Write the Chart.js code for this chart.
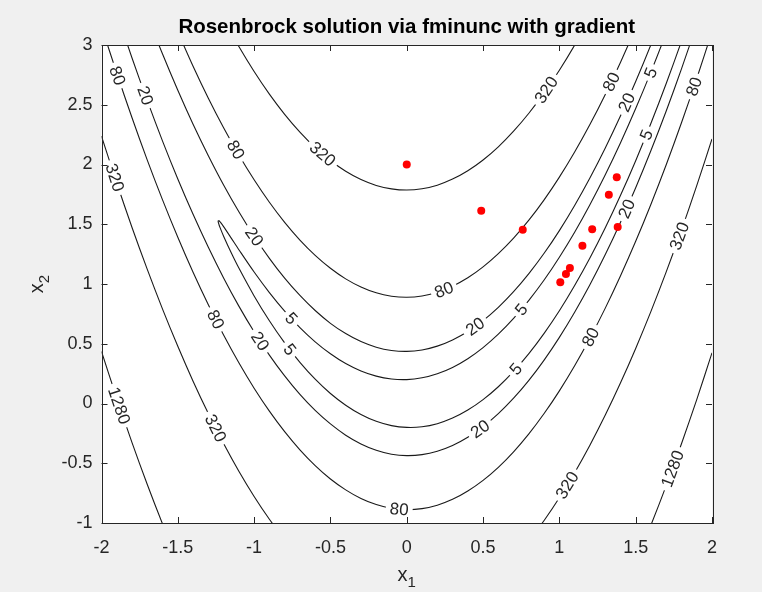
<!DOCTYPE html>
<html lang="en">
<head>
    <meta charset="UTF-8">
    <title>Rosenbrock solution via fminunc with gradient</title>
    <script src="https://cdn.jsdelivr.net/npm/chart.js"></script>
    <style>
        body { margin: 0; background: #f0f0f0; }
        canvas { display: block; }
    </style>
</head>
<body>
    <canvas id="rosenChart" width="762" height="592"></canvas>

    <script>
        // axis ticks
        const xTicks = [-2, -1.5, -1, -0.5, 0, 0.5, 1, 1.5, 2];
        const yTicks = [-1, -0.5, 0, 0.5, 1, 1.5, 2, 2.5, 3];

        // solver iterates
        const iterX = [0, 0.488, 0.760, 1.376, 1.324, 1.215, 1.382, 1.151, 1.069, 1.043, 1.006];
        const iterY = [2, 1.613, 1.454, 1.893, 1.747, 1.458, 1.477, 1.321, 1.134, 1.084, 1.014];

        // contour lines, [x, y] pairs
        const c5 = [
            [1.8, 3.449], [1.7, 3.102], [1.6, 2.775], [1.5, 2.468], [1.4, 2.180], [1.3, 1.912], [1.2, 1.663],
            [1.1, 1.433], [1.0, 1.224], [0.9, 1.033], [0.8, 0.863], [0.7, 0.712], [0.6, 0.580], [0.5, 0.468],
            [0.4, 0.375], [0.3, 0.302], [0.2, 0.249], [0.1, 0.215], [0, 0.200], [-0.1, 0.205], [-0.2, 0.229],
            [-0.3, 0.272], [-0.4, 0.334], [-0.5, 0.416], [-0.6, 0.516], [-0.7, 0.635], [-0.8, 0.773],
            [-0.9, 0.928], [-1.0, 1.100], [-1.1, 1.287], [-1.15, 1.384], [-1.2, 1.480], [-1.22, 1.515],
            [-1.23, 1.529], [-1.236, 1.528], [-1.23, 1.496], [-1.22, 1.462], [-1.2, 1.400], [-1.15, 1.261],
            [-1.1, 1.133], [-1.0, 0.900], [-0.9, 0.692], [-0.8, 0.507], [-0.7, 0.345], [-0.6, 0.204],
            [-0.5, 0.084], [-0.4, -0.014], [-0.3, -0.092], [-0.2, -0.149], [-0.1, -0.185], [0, -0.200],
            [0.1, -0.195], [0.2, -0.169], [0.3, -0.122], [0.4, -0.055], [0.5, 0.032], [0.6, 0.140],
            [0.7, 0.268], [0.8, 0.417], [0.9, 0.587], [1.0, 0.776], [1.1, 0.987], [1.2, 1.217], [1.3, 1.468],
            [1.4, 1.740], [1.5, 2.032], [1.6, 2.345], [1.7, 2.678], [1.8, 3.031], [1.9, 3.405]
        ];
        const c20Upper = [
            [-1.7, 3.247], [-1.6, 2.924], [-1.5, 2.621], [-1.4, 2.337], [-1.3, 2.074], [-1.2, 1.829],
            [-1.1, 1.605], [-1.0, 1.400], [-0.9, 1.215], [-0.8, 1.049], [-0.7, 0.904], [-0.6, 0.778],
            [-0.5, 0.671], [-0.4, 0.585], [-0.3, 0.518], [-0.2, 0.471], [-0.1, 0.444], [0, 0.436],
            [0.1, 0.448], [0.2, 0.480], [0.3, 0.532], [0.4, 0.603], [0.5, 0.694], [0.6, 0.805], [0.7, 0.936],
            [0.8, 1.087], [0.9, 1.257], [1.0, 1.447], [1.1, 1.657], [1.2, 1.887], [1.3, 2.136], [1.4, 2.405],
            [1.5, 2.694], [1.6, 3.003], [1.7, 3.332]
        ];
        const c20Lower = [
            [-2.0, 3.668], [-1.9, 3.270], [-1.8, 2.891], [-1.7, 2.534], [-1.6, 2.196], [-1.5, 1.879],
            [-1.4, 1.583], [-1.3, 1.307], [-1.2, 1.051], [-1.1, 0.815], [-1.0, 0.600], [-0.9, 0.405],
            [-0.8, 0.231], [-0.7, 0.076], [-0.6, -0.058], [-0.5, -0.171], [-0.4, -0.265], [-0.3, -0.338],
            [-0.2, -0.391], [-0.1, -0.424], [0, -0.436], [0.1, -0.428], [0.2, -0.400], [0.3, -0.352],
            [0.4, -0.283], [0.5, -0.194], [0.6, -0.085], [0.7, 0.044], [0.8, 0.193], [0.9, 0.363], [1.0, 0.553],
            [1.1, 0.763], [1.2, 0.993], [1.3, 1.244], [1.4, 1.515], [1.5, 1.806], [1.6, 2.117], [1.7, 2.448],
            [1.8, 2.800], [1.9, 3.172]
        ];
        const c80Upper = [
            [-1.5, 3.109], [-1.4, 2.822], [-1.3, 2.554], [-1.2, 2.307], [-1.1, 2.079], [-1.0, 1.872],
            [-0.9, 1.684], [-0.8, 1.516], [-0.7, 1.368], [-0.6, 1.240], [-0.5, 1.132], [-0.4, 1.043],
            [-0.3, 0.975], [-0.2, 0.926], [-0.1, 0.898], [0, 0.889], [0.1, 0.900], [0.2, 0.931], [0.3, 0.982],
            [0.4, 1.052], [0.5, 1.143], [0.6, 1.254], [0.7, 1.384], [0.8, 1.534], [0.9, 1.704], [1.0, 1.894],
            [1.1, 2.104], [1.2, 2.334], [1.3, 2.584], [1.4, 2.854], [1.5, 3.143]
        ];
        const c80Lower = [
            [-2.0, 3.157], [-1.9, 2.764], [-1.8, 2.391], [-1.7, 2.037], [-1.6, 1.704], [-1.5, 1.391],
            [-1.4, 1.098], [-1.3, 0.826], [-1.2, 0.573], [-1.1, 0.341], [-1.0, 0.128], [-0.9, -0.064],
            [-0.8, -0.236], [-0.7, -0.388], [-0.6, -0.520], [-0.5, -0.632], [-0.4, -0.723], [-0.3, -0.795],
            [-0.2, -0.846], [-0.1, -0.878], [0, -0.889], [0.1, -0.880], [0.2, -0.851], [0.3, -0.802],
            [0.4, -0.732], [0.5, -0.643], [0.6, -0.534], [0.7, -0.404], [0.8, -0.254], [0.9, -0.084],
            [1.0, 0.106], [1.1, 0.316], [1.2, 0.546], [1.3, 0.796], [1.4, 1.067], [1.5, 1.357], [1.6, 1.668],
            [1.7, 1.998], [1.8, 2.349], [1.9, 2.720], [2.0, 3.111]
        ];
        const c320Upper = [
            [-1.2, 3.215], [-1.1, 2.987], [-1.0, 2.778], [-0.9, 2.589], [-0.8, 2.420], [-0.7, 2.271],
            [-0.6, 2.142], [-0.5, 2.033], [-0.4, 1.943], [-0.3, 1.874], [-0.2, 1.825], [-0.1, 1.796],
            [0, 1.786], [0.1, 1.797], [0.2, 1.827], [0.3, 1.878], [0.4, 1.948], [0.5, 2.038], [0.6, 2.148],
            [0.7, 2.279], [0.8, 2.429], [0.9, 2.599], [1.0, 2.789], [1.1, 2.999], [1.2, 3.229]
        ];
        const c320LowerLeft = [
            [-2.0, 2.237], [-1.9, 1.845], [-1.8, 1.473], [-1.7, 1.122], [-1.6, 0.790], [-1.5, 0.479],
            [-1.4, 0.187], [-1.3, -0.084], [-1.2, -0.335], [-1.1, -0.567], [-1.0, -0.778], [-0.9, -0.969],
            [-0.8, -1.140]
        ];
        const c320LowerRight = [
            [0.8, -1.149], [0.9, -0.979], [1.0, -0.789], [1.1, -0.579], [1.2, -0.349], [1.3, -0.099],
            [1.4, 0.171], [1.5, 0.461], [1.6, 0.771], [1.7, 1.101], [1.8, 1.451], [1.9, 1.823], [2.0, 2.214]
        ];
        const c1280Left = [[-2.0, 0.435], [-1.9, 0.044], [-1.8, -0.327], [-1.7, -0.678], [-1.6, -1.008], [-1.5, -1.319]];
        const c1280Right = [[1.5, -1.327], [1.6, -1.017], [1.7, -0.687], [1.8, -0.337], [1.9, 0.033], [2.0, 0.424]];

        const contours = [
            { level: 5, pts: c5 },
            { level: 20, pts: c20Upper }, { level: 20, pts: c20Lower },
            { level: 80, pts: c80Upper }, { level: 80, pts: c80Lower },
            { level: 320, pts: c320Upper }, { level: 320, pts: c320LowerLeft }, { level: 320, pts: c320LowerRight },
            { level: 1280, pts: c1280Left }, { level: 1280, pts: c1280Right }
        ];

        // inline contour labels: level and rough spot on the line
        const labelLevels = [80, 20, 80, 320, 20, 5, 5, 20, 80, 1280, 320, 80, 20, 5, 80,
                             320, 1280, 320, 80, 20, 5, 5, 20, 80, 320, 320, 80, 20, 5];
        const labelX = [-1.905, -1.725, -1.137, -1.92, -1.007, -0.757, -0.768, -0.963, -1.257, -1.888, -1.257,
                        -0.05, 0.484, 0.723, 1.213, 1.06, 1.757, 1.789, 1.887, 1.44, 1.57, 1.615, 1.44, 1.343,
                        0.919, -0.55, 0.244, 0.451, 0.756];
        const labelY = [2.74, 2.571, 2.11, 1.887, 1.39, 0.71, 0.45, 0.52, 0.70, -0.02, -0.21,
                        -0.89, -0.219, 0.28, 0.55, -0.69, -0.554, 1.40, 2.65, 1.63, 2.25, 2.76, 2.52, 2.69,
                        2.62, 2.09, 0.95, 0.64, 0.78];

        const FONT = '"Liberation Sans", Arial, Helvetica, sans-serif';
        const INK = '#262626';

        function drawContourLabels(chart) {
            const ctx = chart.ctx;
            const xs = chart.scales.x, ys = chart.scales.y;
            ctx.save();
            ctx.font = '17px ' + FONT;
            ctx.textAlign = 'center';
            ctx.textBaseline = 'middle';
            labelLevels.forEach((lvl, k) => {
                const px = xs.getPixelForValue(labelX[k]);
                const py = ys.getPixelForValue(labelY[k]);
                let best = null;
                chart.data.datasets.forEach(ds => {
                    if (ds.level !== lvl) return;
                    const p = ds.data.map(d => [xs.getPixelForValue(d.x), ys.getPixelForValue(d.y)]);
                    for (let i = 0; i < p.length - 1; i++) {
                        const dx = p[i + 1][0] - p[i][0], dy = p[i + 1][1] - p[i][1];
                        const len2 = dx * dx + dy * dy;
                        let t = ((px - p[i][0]) * dx + (py - p[i][1]) * dy) / len2;
                        t = Math.max(0, Math.min(1, t));
                        const qx = p[i][0] + t * dx, qy = p[i][1] + t * dy;
                        const dist = Math.hypot(qx - px, qy - py);
                        if (!best || dist < best.dist) best = { dist, x: qx, y: qy, ang: Math.atan2(dy, dx) };
                    }
                });
                if (!best) return;
                let a = best.ang;
                if (a > Math.PI / 2) a -= Math.PI;
                if (a < -Math.PI / 2) a += Math.PI;
                const txt = String(lvl);
                const w = ctx.measureText(txt).width;
                ctx.save();
                ctx.translate(best.x, best.y);
                ctx.rotate(a);
                ctx.fillStyle = '#ffffff';
                ctx.fillRect(-w / 2 - 4, -7, w + 8, 14);
                ctx.fillStyle = INK;
                ctx.fillText(txt, 0, 1);
                ctx.restore();
            });
            ctx.restore();
        }

        const framePlugin = {
            id: 'frame',
            beforeDraw(chart) {
                const { ctx, chartArea: a } = chart;
                ctx.save();
                ctx.fillStyle = '#f0f0f0';
                ctx.fillRect(0, 0, chart.width, chart.height);
                ctx.fillStyle = '#ffffff';
                ctx.fillRect(a.left, a.top, a.right - a.left, a.bottom - a.top);
                ctx.restore();
            },
            beforeDatasetDraw(chart, args) {
                // labels go on after every contour line, just before the iterate markers
                if (args.index === 0) drawContourLabels(chart);
            },
            afterDraw(chart) {
                const { ctx, chartArea: a } = chart;
                const xs = chart.scales.x, ys = chart.scales.y;
                const tl = 6;
                ctx.save();
                ctx.strokeStyle = INK;
                ctx.lineWidth = 1;
                ctx.beginPath();
                xTicks.forEach(v => {
                    const x = Math.round(xs.getPixelForValue(v)) + 0.5;
                    ctx.moveTo(x, a.bottom); ctx.lineTo(x, a.bottom - tl);
                    ctx.moveTo(x, a.top); ctx.lineTo(x, a.top + tl);
                });
                yTicks.forEach(v => {
                    const y = Math.round(ys.getPixelForValue(v)) + 0.5;
                    ctx.moveTo(a.left, y); ctx.lineTo(a.left + tl, y);
                    ctx.moveTo(a.right, y); ctx.lineTo(a.right - tl, y);
                });
                ctx.stroke();
                ctx.strokeRect(Math.round(a.left) + 0.5, Math.round(a.top) + 0.5,
                               Math.round(a.right - a.left), Math.round(a.bottom - a.top));

                // axis names with subscripts
                ctx.fillStyle = INK;
                ctx.textBaseline = 'alphabetic';
                ctx.textAlign = 'left';
                const big = '20px ' + FONT, small = '15px ' + FONT;
                ctx.font = big;
                const wx = ctx.measureText('x').width;
                ctx.font = small;
                const ws = ctx.measureText('1').width;
                const cx = (a.left + a.right) / 2;
                let x0 = cx - (wx + ws) / 2;
                ctx.font = big;
                ctx.fillText('x', x0, 581);
                ctx.font = small;
                ctx.fillText('1', x0 + wx, 587);

                ctx.translate(43, (a.top + a.bottom) / 2);
                ctx.rotate(-Math.PI / 2);
                x0 = -(wx + ws) / 2;
                ctx.font = big;
                ctx.fillText('x', x0, 0);
                ctx.font = small;
                ctx.fillText('2', x0 + wx, 6);
                ctx.restore();
            }
        };

        const datasets = [{
            label: 'iterates',
            data: iterX.map((x, i) => ({ x, y: iterY[i] })),
            pointRadius: 4,
            pointBackgroundColor: '#ff0000',
            pointBorderWidth: 0,
            showLine: false
        }];
        contours.forEach(c => {
            datasets.push({
                level: c.level,
                data: c.pts.map(p => ({ x: p[0], y: p[1] })),
                showLine: true,
                borderColor: '#1a1a1a',
                borderWidth: 1.1,
                pointRadius: 0,
                tension: 0.3,
                fill: false
            });
        });

        const tickFont = { size: 18, family: FONT };

        new Chart(document.getElementById('rosenChart'), {
            type: 'scatter',
            data: { datasets },
            options: {
                responsive: false,
                animation: false,
                events: [],
                layout: { padding: { left: 0, right: 50, top: 0, bottom: 0 } },
                plugins: {
                    legend: { display: false },
                    tooltip: { enabled: false },
                    title: {
                        display: true,
                        fullSize: false,
                        text: 'Rosenbrock solution via fminunc with gradient',
                        color: '#000000',
                        font: { size: 20.5, weight: 'bold', family: FONT },
                        padding: { top: 15, bottom: 5.4 }
                    }
                },
                scales: {
                    x: {
                        type: 'linear', min: -2, max: 2,
                        afterBuildTicks: s => { s.ticks = xTicks.map(v => ({ value: v })); },
                        afterFit: s => { s.height = 69; },
                        grid: { display: false, drawTicks: false },
                        border: { display: false },
                        ticks: { color: INK, font: tickFont, padding: 14, maxRotation: 0, autoSkip: false,
                                 callback: v => String(v) }
                    },
                    y: {
                        type: 'linear', min: -1, max: 3,
                        afterBuildTicks: s => { s.ticks = yTicks.map(v => ({ value: v })); },
                        afterFit: s => { s.width = 101.5; },
                        grid: { display: false, drawTicks: false },
                        border: { display: false },
                        ticks: { color: INK, font: tickFont, padding: 9, autoSkip: false,
                                 callback: v => String(v) }
                    }
                }
            },
            plugins: [framePlugin]
        });
    </script>
</body>
</html>
